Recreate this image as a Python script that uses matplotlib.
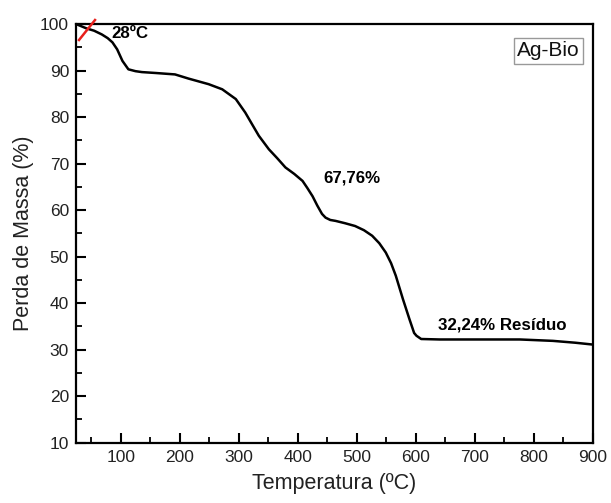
import matplotlib
matplotlib.use("Agg")
import matplotlib.pyplot as plt
from matplotlib.ticker import MultipleLocator

plt.rcParams['font.family'] = ['Liberation Sans', 'DejaVu Sans']

temp = [25, 42, 55, 68, 78, 86, 94, 103, 113, 125, 136, 160, 192, 215, 249, 272, 295, 311,
        322, 334, 351, 365, 379, 394, 408, 416, 425, 433, 441, 447, 455, 464, 480, 497, 512, 526,
        538, 549, 558, 566, 578, 589, 597, 601, 609, 640, 691, 776, 832, 870, 900]
mass = [100.0, 99.1, 98.6, 97.8, 97.0, 96.1, 94.6, 92.1, 90.3, 89.9, 89.7, 89.5, 89.2, 88.3, 87.1, 86.0, 83.9, 81.0,
        78.6, 76.0, 73.1, 71.2, 69.2, 67.8, 66.3, 64.8, 63.0, 61.0, 59.2, 58.4, 57.9, 57.7, 57.2, 56.6, 55.7, 54.5,
        52.9, 50.9, 48.6, 45.9, 40.9, 36.6, 33.6, 33.0, 32.3, 32.2, 32.2, 32.2, 31.9, 31.5, 31.1]

onset_x = [29.4, 56.5]
onset_y = [96.6, 100.9]

fig = plt.figure(figsize=(6.11, 5.03), dpi=100)
ax = fig.add_axes([76 / 611, 1 - 442.7 / 503, (593 - 76) / 611, (442.7 - 24.2) / 503])
ax.plot(temp, mass, color='black', lw=1.8, solid_joinstyle='round')
ax.plot(onset_x, onset_y, color='#e8201c', lw=1.8, clip_on=False, zorder=5)

ax.set_xlim(24.3, 900)
ax.set_ylim(10, 100)
ax.xaxis.set_major_locator(MultipleLocator(100))
ax.xaxis.set_minor_locator(MultipleLocator(50))
ax.yaxis.set_major_locator(MultipleLocator(10))
ax.yaxis.set_minor_locator(MultipleLocator(5))
ax.tick_params(which='major', direction='in', length=7.5, width=1.5, labelsize=12.5, pad=5,
               labelcolor='#222222')
ax.tick_params(which='minor', direction='in', length=4, width=1.3)
for s in ax.spines.values():
    s.set_linewidth(1.6)

ax.set_xlabel('Temperatura (ºC)', fontsize=15.5, labelpad=6, color='#222222')
ax.set_ylabel('Perda de Massa (%)', fontsize=15.5, labelpad=4, color='#222222')

ax.text(83.6, 98.0, '28ºC', fontsize=12.2, fontweight='bold', ha='left', va='center')
ax.text(491.7, 67.0, '67,76%', fontsize=12.2, fontweight='bold', ha='center', va='center')
ax.text(746.6, 35.3, '32,24% Resíduo', fontsize=12.2, fontweight='bold', ha='center', va='center')
ax.text(0.914, 0.937, 'Ag-Bio', transform=ax.transAxes, fontsize=15, ha='center', va='center',
        color='#111111',
        bbox=dict(boxstyle='square,pad=0.17', fc='white', ec='#999999', lw=1.0))

fig.savefig('out.png', dpi=100)
